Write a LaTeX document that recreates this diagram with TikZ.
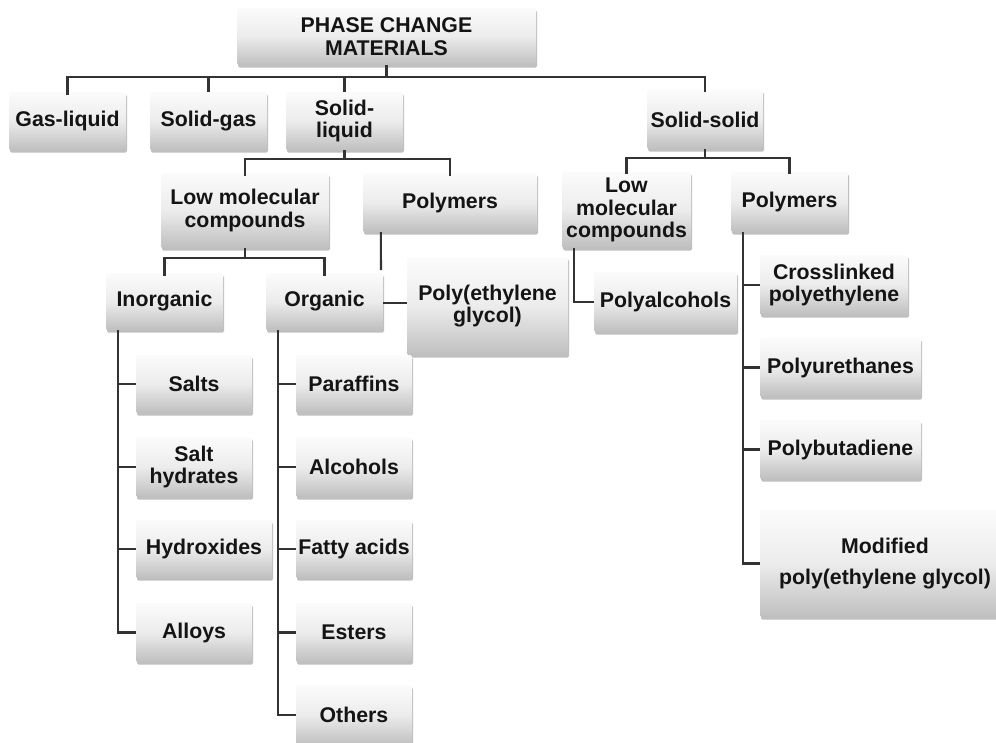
\documentclass[tikz,border=0pt]{standalone}
\usepackage{fontspec}
\setmainfont{Liberation Sans}
\usetikzlibrary{shadows}
\begin{document}
\begin{tikzpicture}[x=1pt,y=-1pt,
  box/.style={rectangle, rounded corners=1.5pt, inner sep=0pt, align=center,
    font=\fontsize{21.3}{22.5}\selectfont\bfseries, text=black!92,
    top color=gray!3, bottom color=gray!50, middle color=gray!15,
    drop shadow={shadow xshift=1pt, shadow yshift=-2.5pt, opacity=0.25, fill=black}},
  conn/.style={draw=black!80, line width=2.1pt}]
\useasboundingbox[fill=white] (0,0) rectangle (996,742);

% level 0
\node[box, minimum width=299pt, minimum height=57pt] (pcm) at (386.5,36.5) {PHASE CHANGE\\MATERIALS};
% level 1
\node[box, minimum width=117pt, minimum height=58pt] (gl) at (67.5,121) {Gas-liquid};
\node[box, minimum width=117pt, minimum height=58pt] (sg) at (208.5,121) {Solid-gas};
\node[box, minimum width=117pt, minimum height=58pt] (sl) at (344.5,121) {Solid-\\liquid};
\node[box, minimum width=116pt, minimum height=59pt] (ss) at (705,119.5) {Solid-solid};
% level 2
\node[box, minimum width=168pt, minimum height=75pt] (lmc) at (245,210.5) {Low molecular\\compounds};
\node[box, minimum width=174pt, minimum height=59pt] (polyA) at (450,202.5) {Polymers};
\node[box, minimum width=129pt, minimum height=76pt] (lmcB) at (626.5,210) {Low\\molecular\\compounds};
\node[box, minimum width=117pt, minimum height=60pt] (polyB) at (789.5,202) {Polymers};
% level 3
\node[box, minimum width=117pt, minimum height=57pt] (inorg) at (164.5,301.5) {Inorganic};
\node[box, minimum width=117pt, minimum height=57pt] (org) at (324.5,301.5) {Organic};
\node[box, minimum width=161pt, minimum height=98pt] (peg) at (487.5,306) {Poly(ethylene\\glycol)};
\node[box, minimum width=143pt, minimum height=60pt] (polyalc) at (665.5,302) {Polyalcohols};
% inorganic children
\node[box, minimum width=116pt, minimum height=58pt] (salts) at (194,384) {Salts};
\node[box, minimum width=116pt, minimum height=60pt] (salthyd) at (194,467) {Salt\\hydrates};
\node[box, minimum width=136pt, minimum height=58pt] (hydrox) at (204,549) {Hydroxides};
\node[box, minimum width=116pt, minimum height=59pt] (alloys) at (194,632.5) {Alloys};
% organic children
\node[box, minimum width=116pt, minimum height=58pt] (paraf) at (354,384) {Paraffins};
\node[box, minimum width=116pt, minimum height=60pt] (alc) at (354,467) {Alcohols};
\node[box, minimum width=116pt, minimum height=58pt] (fatty) at (354,549) {Fatty acids};
\node[box, minimum width=116pt, minimum height=59pt] (esters) at (354,632.5) {Esters};
\node[box, minimum width=116pt, minimum height=60pt] (others) at (354,715) {Others};
% solid-solid polymers children
\node[box, minimum width=148pt, minimum height=60pt] (cross) at (834,285) {Crosslinked\\polyethylene};
\node[box, minimum width=161pt, minimum height=59pt] (pu) at (840.5,367.5) {Polyurethanes};
\node[box, minimum width=161pt, minimum height=59pt] (pb) at (840.5,449.5) {Polybutadiene};
\node[box, minimum width=250pt, minimum height=107pt] (mpeg) at (885,563.5) {Modified\\[9pt]poly(ethylene glycol)};

% connectors
\coordinate (b1) at (0,77);
\draw[conn] (pcm.south) -- (pcm.south |- b1);
\draw[conn] ([yshift=-3pt]gl.north) |- (b1 -| ss.north) -- ([yshift=-2pt]ss.north);
\draw[conn] (sg.north) -- (sg.north |- b1);
\draw[conn] (sl.north) -- (sl.north |- b1);

\coordinate (b2) at (0,159);
\draw[conn] (sl.south) -- (sl.south |- b2);
\draw[conn] ([yshift=-3pt]lmc.north) |- (b2 -| polyA.north) -- ([yshift=-3pt]polyA.north);

\coordinate (b3) at (0,258);
\draw[conn] (lmc.south) -- (lmc.south |- b3);
\draw[conn] ([yshift=-3pt]inorg.north) |- (b3 -| org.north) -- ([yshift=-3pt]org.north);

\coordinate (pa) at ([xshift=18pt]polyA.south west);
\coordinate (paend) at (381,270);
\draw[conn] (pa) -- (paend);
\draw[conn] ([yshift=-1.5pt]org.east) -- ([yshift=-1.5pt]org.east -| peg.west);

\coordinate (b4) at (0,158);
\draw[conn] (ss.south) -- (ss.south |- b4);
\draw[conn] ([yshift=-2pt]lmcB.north) |- (b4 -| polyB.north) -- ([yshift=-2pt]polyB.north);

\coordinate (ib) at ([xshift=12pt]inorg.south west);
\draw[conn] (ib) |- (alloys.west);
\foreach \n in {salts,salthyd,hydrox} \draw[conn] (\n.west) -- (\n.west -| ib);

\coordinate (ob) at ([xshift=12pt]org.south west);
\draw[conn] (ob) |- (others.west);
\foreach \n in {paraf,alc,fatty,esters} \draw[conn] (\n.west) -- (\n.west -| ob);

\coordinate (lb) at ([xshift=12pt]lmcB.south west);
\draw[conn] (lb) |- (polyalc.west);

\coordinate (pbb) at ([xshift=12pt]polyB.south west);
\draw[conn] (pbb) |- (mpeg.west);
\foreach \n in {cross,pu,pb} \draw[conn] (\n.west) -- (\n.west -| pbb);
\end{tikzpicture}
\end{document}
